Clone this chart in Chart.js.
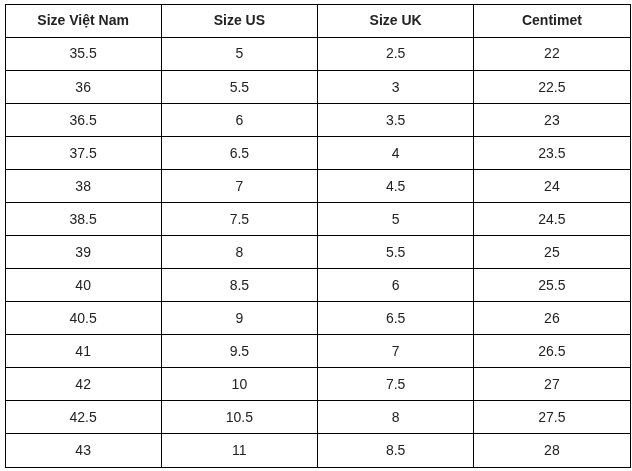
<!DOCTYPE html>
<html><head><meta charset="utf-8">
<script src="https://cdn.jsdelivr.net/npm/chart.js@4/dist/chart.umd.min.js"></script>
<style>html,body{margin:0;padding:0;background:#fff}#w{width:632px;height:471px}</style>
</head><body><div id="w"><canvas id="c"></canvas></div>
<script>
const headers = ["Size Việt Nam", "Size US", "Size UK", "Centimet"];
const sizeVN = ["35.5","36","36.5","37.5","38","38.5","39","40","40.5","41","42","42.5","43"];
const sizeUS = ["5","5.5","6","6.5","7","7.5","8","8.5","9","9.5","10","10.5","11"];
const sizeUK = ["2.5","3","3.5","4","4.5","5","5.5","6","6.5","7","7.5","8","8.5"];
const centimet = ["22","22.5","23","23.5","24","24.5","25","25.5","26","26.5","27","27.5","28"];
const columns = [sizeVN, sizeUS, sizeUK, centimet];

const datasets = columns.map((col, ci) => ({
  label: headers[ci],
  labels: [headers[ci]].concat(col),
  data: [headers[ci]].concat(col).map((v, ri) => ({x: ci + 0.5, y: ri + 0.5})),
  pointRadius: 0, pointHoverRadius: 0, showLine: false
}));

const textPlugin = {
  id: 'cellText',
  afterDatasetsDraw(chart) {
    const ctx = chart.ctx;
    ctx.save();
    ctx.textAlign = 'center'; ctx.textBaseline = 'middle';
    chart.data.datasets.forEach((ds, di) => {
      const meta = chart.getDatasetMeta(di);
      meta.data.forEach((pt, i) => {
        ctx.font = (i === 0 ? 'bold 14px' : '14px') + ' "Liberation Sans", Arial, sans-serif';
        ctx.fillStyle = '#222';
        ctx.fillText(ds.labels[i], pt.x, pt.y + 1);
      });
    });
    ctx.restore();
  }
};

new Chart(document.getElementById('c'), {
  type: 'scatter',
  data: { datasets },
  options: {
    responsive: true, maintainAspectRatio: false, animation: false,
    layout: { padding: { left: 5, right: 2, top: 4, bottom: 4 } },
    plugins: { legend: { display: false }, tooltip: { enabled: false } },
    scales: {
      x: { type: 'linear', min: 0, max: 4, ticks: { display: false, stepSize: 1 },
           grid: { color: '#000', lineWidth: 1, drawTicks: false },
           border: { color: '#000', width: 1 } },
      y: { type: 'linear', min: 0, max: 14, reverse: true, ticks: { display: false, stepSize: 1 },
           grid: { color: '#000', lineWidth: 1, drawTicks: false },
           border: { color: '#000', width: 1 } }
    }
  },
  plugins: [textPlugin]
});
</script></body></html>
